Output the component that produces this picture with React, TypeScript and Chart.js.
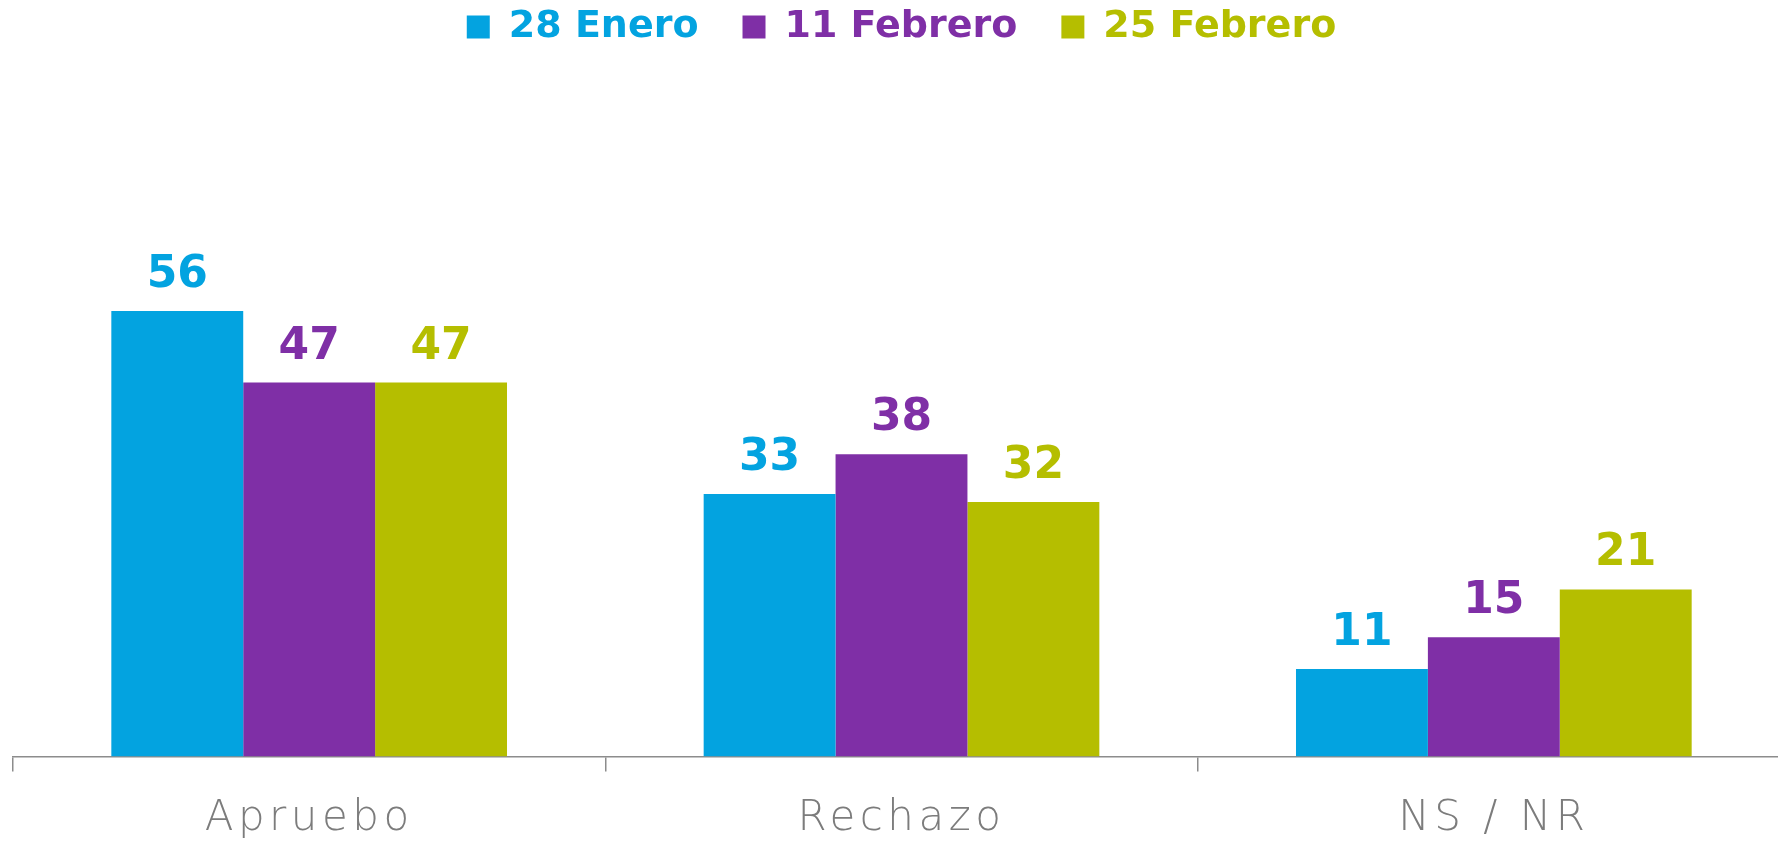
import React, { useEffect, useRef } from "react";
import { Chart, registerables } from "chart.js";

Chart.register(...registerables);

const categories = ["Apruebo", "Rechazo", "NS / NR"];
const seriesNames = ["28 Enero", "11 Febrero", "25 Febrero"];
const enero28 = [56, 33, 11];
const febrero11 = [47, 38, 15];
const febrero25 = [47, 32, 21];
const seriesColors = ["#03A3E0", "#7F2FA6", "#B5BE00"];

const valueLabels = {
  id: "valueLabels",
  afterLayout(chart: any) {
    const lg = chart.legend;
    if (lg) {
      lg.top -= 36;
      lg.bottom -= 36;
    }
  },
  afterDatasetsDraw(chart: any) {
    const ctx = chart.ctx;
    ctx.save();
    ctx.letterSpacing = "0px";
    ctx.font = "700 44px 'DejaVu Sans'";
    ctx.textAlign = "center";
    ctx.textBaseline = "alphabetic";
    chart.data.datasets.forEach((ds: any, i: number) => {
      const meta = chart.getDatasetMeta(i);
      ctx.fillStyle = ds.backgroundColor;
      meta.data.forEach((el: any, j: number) => {
        ctx.fillText(String(ds.data[j]), el.x, el.y - 24);
      });
    });
    ctx.restore();
    // wider tracking for the category labels, drawn after this hook (ticks.z = 1)
    ctx.letterSpacing = "4.5px";
  },
  afterDraw(chart: any) {
    chart.ctx.letterSpacing = "0px";
  },
};

export default function App() {
  const ref = useRef<HTMLCanvasElement>(null);
  useEffect(() => {
    const all = [enero28, febrero11, febrero25];
    const chart = new Chart(ref.current!, {
      type: "bar",
      data: {
        labels: categories,
        datasets: all.map((d, i) => ({
          label: seriesNames[i],
          data: d,
          backgroundColor: seriesColors[i],
          borderWidth: 0,
          categoryPercentage: 0.668,
          barPercentage: 1,
        })),
      },
      options: {
        responsive: false,
        animation: false,
        devicePixelRatio: 1,
        layout: { padding: { left: 13, right: 0, top: 0, bottom: 0 } },
        plugins: {
          tooltip: { enabled: false },
          legend: {
            position: "top",
            labels: {
              boxWidth: 23,
              boxHeight: 23,
              padding: 44,
              font: { family: "'DejaVu Sans'", size: 38, weight: "bold" },
              generateLabels: (c: any) =>
                c.data.datasets.map((ds: any, i: number) => ({
                  text: ds.label,
                  fillStyle: ds.backgroundColor,
                  strokeStyle: ds.backgroundColor,
                  lineWidth: 0,
                  fontColor: ds.backgroundColor,
                  hidden: false,
                  datasetIndex: i,
                })),
            },
          },
        },
        scales: {
          x: {
            border: { display: true, color: "#8C8C8C", width: 1.5 },
            grid: {
              display: true,
              offset: true,
              drawOnChartArea: false,
              drawTicks: true,
              tickLength: 15,
              color: "#8C8C8C",
              lineWidth: 1.5,
            },
            ticks: {
              z: 1,
              color: "#7C7C7C",
              padding: 22,
              font: { family: "'DejaVu Sans'", size: 42, weight: "200" },
            },
          },
          y: { display: false, min: 0, max: 83.5 },
        },
      },
      plugins: [valueLabels],
    });
    return () => chart.destroy();
  }, []);
  return (
    <div style={{ position: "absolute", left: 0, top: 0, width: 1778, height: 844, overflow: "hidden", background: "#fff" }}>
      <canvas ref={ref} width={1790} height={866} />
    </div>
  );
}
